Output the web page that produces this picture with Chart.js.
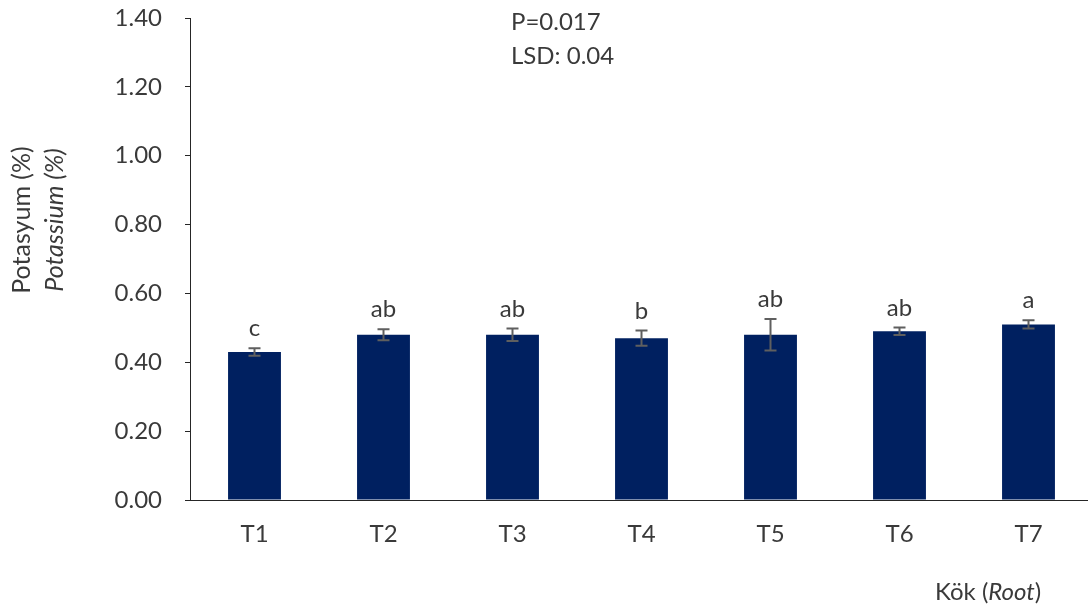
<!DOCTYPE html>
<html>
<head>
<meta charset="utf-8">
<title>Potasyum – Kök</title>
<script src="https://cdn.jsdelivr.net/npm/chart.js@4/dist/chart.umd.min.js"></script>
<style>
  html, body { margin: 0; padding: 0; background: #ffffff; overflow: hidden; }
  #wrap { width: 1100px; height: 609px; }
</style>
</head>
<body>
<div id="wrap"><canvas id="c" width="1100" height="609"></canvas></div>
<script>
// Treatments and measured root potassium (%)
const categories = ['T1', 'T2', 'T3', 'T4', 'T5', 'T6', 'T7'];
const potassium = [0.43, 0.48, 0.48, 0.47, 0.48, 0.49, 0.51];
const stdError = [0.011, 0.016, 0.018, 0.022, 0.046, 0.011, 0.012];
const groupLetters = ['c', 'ab', 'ab', 'b', 'ab', 'ab', 'a'];
const yTicks = [0, 0.2, 0.4, 0.6, 0.8, 1.0, 1.2, 1.4];
const statLines = ['P=0.017', 'LSD: 0.04'];

const FONT = 'Lato, "Open Sans", sans-serif';
const TEXT = '#3a3a3a';

// Error bars, significance letters and free text
const extras = {
  id: 'extras',
  afterDatasetsDraw(chart) {
    const ctx = chart.ctx;
    const y = chart.scales.y;
    const meta = chart.getDatasetMeta(0);
    ctx.save();
    meta.data.forEach((bar, i) => {
      const x = bar.x;
      const top = y.getPixelForValue(potassium[i] + stdError[i]);
      const bot = y.getPixelForValue(potassium[i] - stdError[i]);
      ctx.strokeStyle = '#5f5f5f';
      ctx.lineWidth = 2;
      ctx.beginPath();
      ctx.moveTo(x, top); ctx.lineTo(x, bot);
      ctx.moveTo(x - 6, top); ctx.lineTo(x + 6, top);
      ctx.moveTo(x - 6, bot); ctx.lineTo(x + 6, bot);
      ctx.stroke();

      ctx.fillStyle = TEXT;
      ctx.font = '24px ' + FONT;
      ctx.textAlign = 'center';
      ctx.textBaseline = 'alphabetic';
      ctx.fillText(groupLetters[i], x, top - 12);
    });
    ctx.restore();
  },
  afterDraw(chart) {
    const ctx = chart.ctx;
    ctx.save();
    ctx.fillStyle = TEXT;

    // statistics note
    ctx.font = '24px ' + FONT;
    ctx.textAlign = 'left';
    ctx.textBaseline = 'middle';
    ctx.fillText(statLines[0], 511, 22);
    ctx.fillText(statLines[1], 511, 56);

    // y axis title, two lines
    ctx.save();
    ctx.translate(22, 220);
    ctx.rotate(-Math.PI / 2);
    ctx.textAlign = 'center';
    ctx.textBaseline = 'middle';
    ctx.font = '25px ' + FONT;
    ctx.fillText('Potasyum (%)', 0, 0);
    ctx.font = 'italic 25px ' + FONT;
    ctx.fillText('Potassium (%)', 0, 33);
    ctx.restore();

    // x axis note
    ctx.textAlign = 'left';
    ctx.textBaseline = 'middle';
    let px = 935;
    const parts = [['Kök (', ''], ['Root', 'italic '], [')', '']];
    parts.forEach(([t, style]) => {
      ctx.font = style + '24px ' + FONT;
      ctx.fillText(t, px, 592);
      px += ctx.measureText(t).width;
    });
    ctx.restore();
  }
};

new Chart(document.getElementById('c'), {
  type: 'bar',
  data: {
    labels: categories,
    datasets: [{
      data: potassium,
      backgroundColor: '#002060',
      borderWidth: 0,
      barPercentage: 0.41,
      categoryPercentage: 1.0
    }]
  },
  options: {
    responsive: false,
    animation: false,
    layout: { padding: { left: 0, right: 7, top: 0, bottom: 0 } },
    plugins: {
      legend: { display: false },
      tooltip: { enabled: false }
    },
    scales: {
      x: {
        grid: { display: false, drawTicks: false },
        border: { display: true, color: '#262626', width: 1 },
        ticks: {
          font: { family: FONT, size: 24 },
          color: TEXT,
          padding: 20
        },
        afterFit(scale) { scale.height = 109; }
      },
      y: {
        min: 0,
        max: 1.4,
        afterBuildTicks(scale) { scale.ticks = yTicks.map(v => ({ value: v })); },
        ticks: {
          font: { family: FONT, size: 24 },
          color: TEXT,
          padding: 23,
          callback: v => Number(v).toFixed(2)
        },
        grid: {
          drawOnChartArea: false,
          drawTicks: true,
          tickLength: 5,
          color: '#262626'
        },
        border: { display: true, color: '#262626', width: 1 },
        afterFit(scale) {
          scale.width = 190;
          scale.paddingTop = 18;
          scale.paddingBottom = 0;
        }
      }
    }
  },
  plugins: [extras]
});
</script>
</body>
</html>
